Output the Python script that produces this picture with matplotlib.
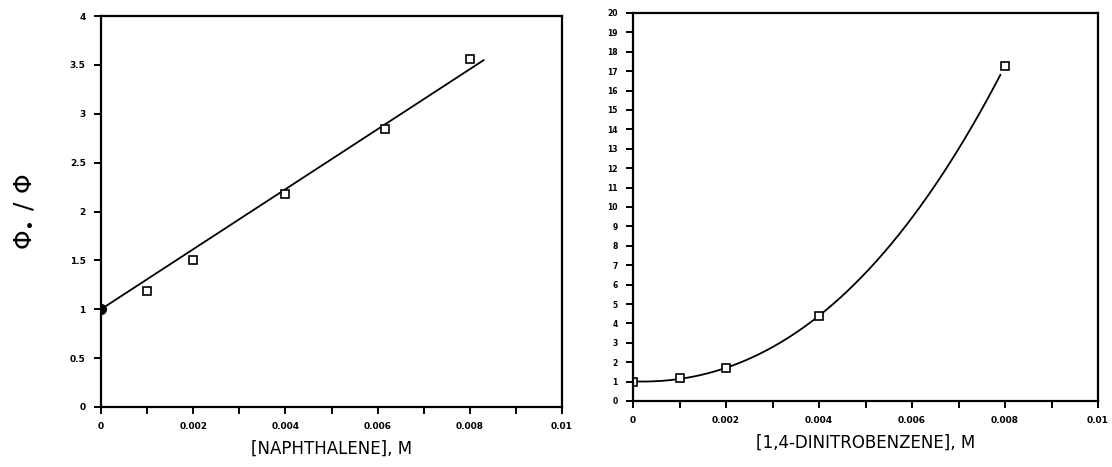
import matplotlib.pyplot as plt
import numpy as np

# naphthalene quenching data
naph_conc = [0.0, 0.001, 0.002, 0.004, 0.00615, 0.008]
naph_ratio = [1.0, 1.19, 1.50, 2.18, 2.84, 3.56]

# 1,4-dinitrobenzene quenching data
dnb_conc = [0.0, 0.001, 0.002, 0.004, 0.008]
dnb_ratio = [1.0, 1.17, 1.68, 4.40, 17.27]

x_tick_labels = ['0', '0.002', '0.004', '0.006', '0.008', '0.01']

plt.rcParams['font.family'] = ['DejaVu Sans']

fig = plt.figure(figsize=(11.12, 4.67), dpi=100)
W, H = 1112.0, 467.0
ax1 = fig.add_axes([101 / W, 1 - 407 / H, 461 / W, 391 / H])
ax2 = fig.add_axes([633 / W, 1 - 401 / H, 465 / W, 388 / H])


def style_axes(ax):
    for s in ax.spines.values():
        s.set_linewidth(1.6)
    ax.tick_params(direction='out', length=5, width=1.4, labelsize=6.5, pad=6)
    ax.set_xlim(0, 0.01)
    ax.set_xticks(np.arange(0, 0.0101, 0.001))
    labels = []
    for i in range(11):
        labels.append(x_tick_labels[i // 2] if i % 2 == 0 else '')
    ax.set_xticklabels(labels, fontweight='bold')
    ax.xaxis.labelpad = 6


# left panel: linear Stern-Volmer fit through (0, 1)
x = np.array(naph_conc[1:])
y = np.array(naph_ratio[1:])
k_sv = np.sum(x * (y - 1)) / np.sum(x * x)
xf = np.array([0.0, 0.0083])
ax1.plot(xf, 1 + k_sv * xf, color='black', lw=1.3)
ax1.plot(naph_conc[1:], naph_ratio[1:], 's', ms=5.5, mfc='white', mec='black', mew=1.2)
ax1.plot(naph_conc[:1], naph_ratio[:1], 'o', ms=7, color='black')
style_axes(ax1)
ax1.set_ylim(0, 4)
ax1.set_yticks(np.arange(0, 4.01, 0.5))
ax1.set_yticklabels(['0', '0.5', '1', '1.5', '2', '2.5', '3', '3.5', '4'], fontweight='bold')
ax1.set_xlabel('[NAPHTHALENE], M', fontsize=12)
ax1.set_ylabel(r'$\Phi_{\bullet}\ /\ \Phi$', fontsize=18, labelpad=25)

# right panel: smooth curve through the points
coef = np.polyfit(dnb_conc, dnb_ratio, 3)
xc = np.linspace(0, 0.0079, 200)
ax2.plot(xc, np.polyval(coef, xc), color='black', lw=1.3)
ax2.plot(dnb_conc, dnb_ratio, 's', ms=5.5, mfc='white', mec='black', mew=1.2)
style_axes(ax2)
ax2.set_ylim(0, 20)
ax2.set_yticks(np.arange(0, 21, 1))
ax2.set_yticklabels([str(v) for v in range(21)], fontweight='bold', fontsize=5.5)
ax2.set_xlabel('[1,4-DINITROBENZENE], M', fontsize=12)

fig.savefig('out.png', dpi=100)
